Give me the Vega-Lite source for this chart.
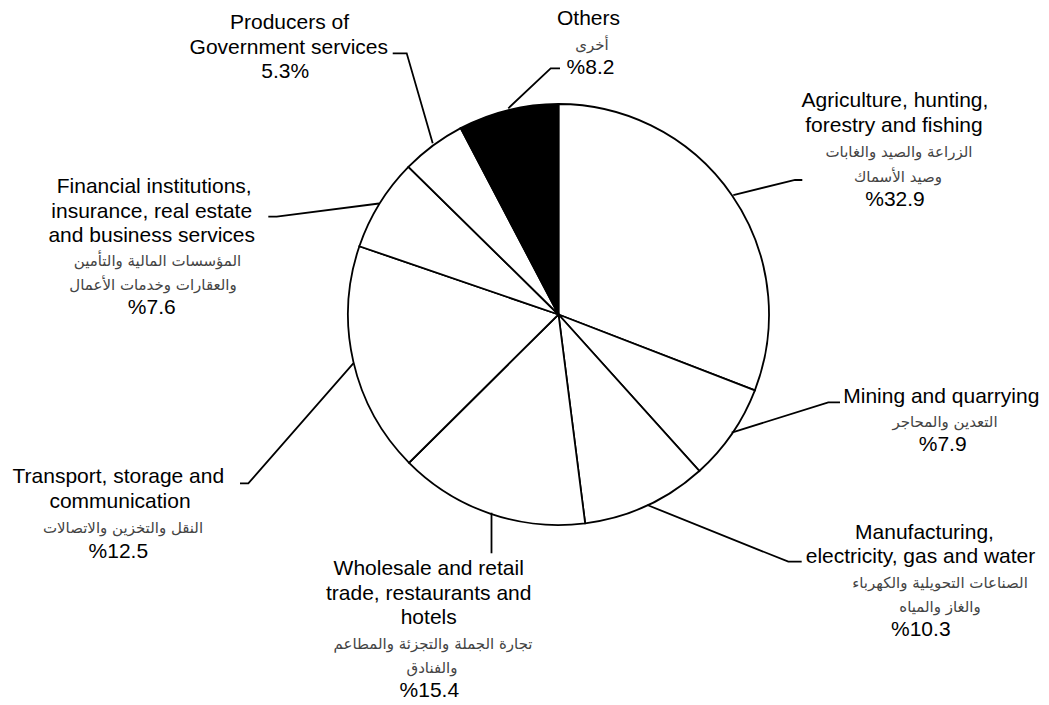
{
  "$schema": "https://vega.github.io/schema/vega-lite/v6.json",
  "width": 981,
  "height": 629,
  "padding": {"left": 68, "right": 0, "top": 0, "bottom": 76},
  "autosize": {"type": "none"},
  "background": "white",
  "config": {"view": {"stroke": null}},
  "datasets": {
    "slices": [
      {"idx": 1, "sector": "Agriculture, hunting, forestry and fishing", "share": 30.86},
      {"idx": 2, "sector": "Mining and quarrying", "share": 7.47},
      {"idx": 3, "sector": "Manufacturing, electricity, gas and water", "share": 9.64},
      {"idx": 4, "sector": "Wholesale and retail trade, restaurants and hotels", "share": 14.58},
      {"idx": 5, "sector": "Transport, storage and communication", "share": 17.69},
      {"idx": 6, "sector": "Financial institutions, insurance, real estate and business services", "share": 7.11},
      {"idx": 7, "sector": "Producers of Government services", "share": 4.94},
      {"idx": 8, "sector": "Others", "share": 7.69}
    ],
    "leaders": [
      {"sector": "Others", "pt": 1, "u": 0.0071, "v": 1.1696},
      {"sector": "Others", "pt": 2, "u": -0.0371, "v": 1.1696},
      {"sector": "Others", "pt": 3, "u": -0.2385, "v": 0.9796},
      {"sector": "Producers", "pt": 1, "u": -0.7876, "v": 1.2409},
      {"sector": "Producers", "pt": 2, "u": -0.7211, "v": 1.2409},
      {"sector": "Producers", "pt": 3, "u": -0.5976, "v": 0.8133},
      {"sector": "Agriculture", "pt": 1, "u": 0.8304, "v": 0.5677},
      {"sector": "Agriculture", "pt": 2, "u": 1.1235, "v": 0.6390},
      {"sector": "Agriculture", "pt": 3, "u": 1.1582, "v": 0.6390},
      {"sector": "Mining", "pt": 1, "u": 0.8228, "v": -0.5615},
      {"sector": "Mining", "pt": 2, "u": 1.2817, "v": -0.4171},
      {"sector": "Mining", "pt": 3, "u": 1.3373, "v": -0.4171},
      {"sector": "Manufacturing", "pt": 1, "u": 0.4219, "v": -0.9050},
      {"sector": "Manufacturing", "pt": 2, "u": 1.0917, "v": -1.1743},
      {"sector": "Manufacturing", "pt": 3, "u": 1.1553, "v": -1.1743},
      {"sector": "Wholesale", "pt": 1, "u": -0.3183, "v": -0.9416},
      {"sector": "Wholesale", "pt": 2, "u": -0.3183, "v": -1.1344},
      {"sector": "Transport", "pt": 1, "u": -1.5131, "v": -0.8019},
      {"sector": "Transport", "pt": 2, "u": -1.4736, "v": -0.8019},
      {"sector": "Transport", "pt": 3, "u": -0.9748, "v": -0.2318},
      {"sector": "Financial", "pt": 1, "u": -1.3786, "v": 0.4646},
      {"sector": "Financial", "pt": 2, "u": -1.3387, "v": 0.4646},
      {"sector": "Financial", "pt": 3, "u": -0.8527, "v": 0.5273}
    ],
    "labels_en": [
      {"line": "Others", "u": 0.1425, "v": 1.3753},
      {"line": "%8.2", "u": 0.1520, "v": 1.1425},
      {"line": "Producers of", "u": -1.2779, "v": 1.3549},
      {"line": "Government services", "u": -1.2812, "v": 1.2399},
      {"line": "5.3%", "u": -1.2979, "v": 1.1221},
      {"line": "Agriculture, hunting,", "u": 1.5986, "v": 0.9834},
      {"line": "forestry and fishing", "u": 1.5938, "v": 0.8670},
      {"line": "%32.9", "u": 1.5986, "v": 0.5154},
      {"line": "Mining and quarrying", "u": 1.8185, "v": -0.4190},
      {"line": "%7.9", "u": 1.8252, "v": -0.6470},
      {"line": "Manufacturing,", "u": 1.7387, "v": -1.0665},
      {"line": "electricity, gas and water", "u": 1.7197, "v": -1.1819},
      {"line": "%10.3", "u": 1.7211, "v": -1.5283},
      {"line": "Wholesale and retail", "u": -0.6166, "v": -1.2399},
      {"line": "trade, restaurants and", "u": -0.6166, "v": -1.3558},
      {"line": "hotels", "u": -0.6166, "v": -1.4717},
      {"line": "%15.4", "u": -0.6138, "v": -1.8195},
      {"line": "Transport, storage and", "u": -2.0912, "v": -0.8019},
      {"line": "communication", "u": -2.0831, "v": -0.9207},
      {"line": "%12.5", "u": -2.0912, "v": -1.1582},
      {"line": "Financial institutions,", "u": -1.9207, "v": 0.5758},
      {"line": "insurance, real estate", "u": -1.9325, "v": 0.4608},
      {"line": "and business services", "u": -1.9325, "v": 0.3458},
      {"line": "%7.6", "u": -1.9325, "v": 0.0010}
    ],
    "labels_ar": [
      {"line": "أخرى", "u": 0.1591, "v": 1.2589},
      {"line": "الزراعة والصيد والغابات", "u": 1.6176, "v": 0.7482},
      {"line": "وصيد الأسماك", "u": 1.6128, "v": 0.6318},
      {"line": "التعدين والمحاجر", "u": 1.8361, "v": -0.5330},
      {"line": "الصناعات التحويلية والكهرباء", "u": 1.8124, "v": -1.2974},
      {"line": "والغاز والمياه", "u": 1.8124, "v": -1.4128},
      {"line": "تجارة الجملة والتجزئة والمطاعم", "u": -0.5962, "v": -1.5876},
      {"line": "والفنادق", "u": -0.6010, "v": -1.7036},
      {"line": "النقل والتخزين والاتصالات", "u": -2.0689, "v": -1.0394},
      {"line": "المؤسسات المالية والتأمين", "u": -1.9050, "v": 0.2309},
      {"line": "والعقارات وخدمات الأعمال", "u": -1.9264, "v": 0.1159}
    ]
  },
  "layer": [
    {
      "data": {"name": "slices"},
      "mark": {"type": "arc", "outerRadius": 210.5, "stroke": "black", "strokeWidth": 1.8, "strokeJoin": "miter"},
      "encoding": {
        "theta": {"field": "share", "type": "quantitative", "stack": true},
        "order": {"field": "idx", "type": "quantitative", "sort": "ascending"},
        "fill": {"condition": {"test": "datum.sector === 'Others'", "value": "black"}, "value": "white"}
      }
    },
    {
      "data": {"name": "leaders"},
      "mark": {"type": "line", "color": "black", "strokeWidth": 1.8, "strokeJoin": "miter"},
      "encoding": {
        "x": {"field": "u", "type": "quantitative", "scale": {"domain": [-2.3302, 2.3302], "nice": false, "zero": false}, "axis": null},
        "y": {"field": "v", "type": "quantitative", "scale": {"domain": [-1.4941, 1.4941], "nice": false, "zero": false}, "axis": null},
        "detail": {"field": "sector", "type": "nominal"},
        "order": {"field": "pt", "type": "quantitative"}
      }
    },
    {
      "data": {"name": "labels_en"},
      "mark": {"type": "text", "font": "Liberation Sans", "fontSize": 21, "color": "black", "align": "center", "baseline": "alphabetic"},
      "encoding": {
        "x": {"field": "u", "type": "quantitative", "scale": {"domain": [-2.3302, 2.3302], "nice": false, "zero": false}, "axis": null},
        "y": {"field": "v", "type": "quantitative", "scale": {"domain": [-1.4941, 1.4941], "nice": false, "zero": false}, "axis": null},
        "text": {"field": "line", "type": "nominal"}
      }
    },
    {
      "data": {"name": "labels_ar"},
      "mark": {"type": "text", "font": "DejaVu Sans", "fontSize": 15, "color": "#444444", "align": "center", "baseline": "alphabetic"},
      "encoding": {
        "x": {"field": "u", "type": "quantitative", "scale": {"domain": [-2.3302, 2.3302], "nice": false, "zero": false}, "axis": null},
        "y": {"field": "v", "type": "quantitative", "scale": {"domain": [-1.4941, 1.4941], "nice": false, "zero": false}, "axis": null},
        "text": {"field": "line", "type": "nominal"}
      }
    }
  ]
}
